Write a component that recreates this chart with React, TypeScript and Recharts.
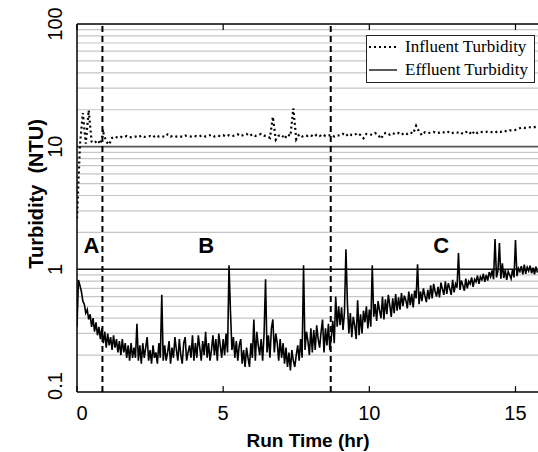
import { LineChart, Line, XAxis, YAxis, ReferenceLine, ReferenceDot } from 'recharts';

// sampling interval of the logged series (hours)
const EFF_STEP_HR = 0.05;
const INF_STEP_HR = 0.1;

// effluent turbidity (NTU), one row per hour of run time
const effluentNTU = [
  0.34, 0.82, 0.74, 0.66, 0.55, 0.52, 0.44, 0.47, 0.39, 0.43, 0.34, 0.40, 0.31, 0.37, 0.29, 0.34, 0.27, 0.33, 0.25, 0.31,
  0.23, 0.30, 0.24, 0.28, 0.22, 0.29, 0.23, 0.27, 0.21, 0.26, 0.20, 0.27, 0.21, 0.25, 0.19, 0.24, 0.18, 0.25, 0.19, 0.23,
  0.19, 0.36, 0.18, 0.24, 0.17, 0.25, 0.19, 0.23, 0.28, 0.18, 0.22, 0.17, 0.24, 0.19, 0.21, 0.17, 0.25, 0.19, 0.62, 0.18,
  0.24, 0.18, 0.21, 0.26, 0.17, 0.23, 0.19, 0.28, 0.22, 0.18, 0.27, 0.20, 0.17, 0.25, 0.28, 0.18, 0.21, 0.24, 0.19, 0.29,
  0.18, 0.25, 0.19, 0.29, 0.23, 0.18, 0.26, 0.20, 0.31, 0.19, 0.25, 0.18, 0.22, 0.29, 0.20, 0.27, 0.18, 0.30, 0.24, 0.19,
  0.27, 0.20, 0.30, 0.21, 1.08, 0.45, 0.22, 0.28, 0.19, 0.26, 0.18, 0.24, 0.27, 0.17, 0.22, 0.16, 0.23, 0.19, 0.16, 0.25,
  0.19, 0.39, 0.18, 0.31, 0.24, 0.20, 0.27, 0.18, 0.30, 0.83, 0.21, 0.29, 0.19, 0.33, 0.39, 0.21, 0.30, 0.25, 0.18, 0.27,
  0.19, 0.25, 0.17, 0.23, 0.16, 0.21, 0.15, 0.22, 0.18, 0.16, 0.20, 0.24, 0.18, 0.27, 0.19, 1.08, 0.22, 0.31, 0.26, 0.20,
  0.33, 0.21, 0.32, 0.22, 0.35, 0.27, 0.23, 0.31, 0.39, 0.21, 0.33, 0.24, 0.36, 0.22, 0.28, 0.38, 0.25, 0.60, 0.34, 0.50,
  0.35, 0.49, 0.32, 0.45, 1.46, 0.53, 0.30, 0.44, 0.28, 0.41, 0.35, 0.27, 0.56, 0.29, 0.43, 0.30, 0.46, 0.37, 0.50, 0.33,
  0.47, 0.34, 1.08, 0.41, 0.52, 0.38, 0.55, 0.46, 0.40, 0.60, 0.39, 0.57, 0.43, 0.62, 0.51, 0.41, 0.58, 0.44, 0.63, 0.46,
  0.59, 0.47, 0.64, 0.50, 0.61, 0.56, 0.48, 0.66, 0.51, 0.63, 0.49, 0.67, 0.58, 1.10, 0.52, 0.66, 0.55, 0.70, 0.61, 0.54,
  0.68, 0.57, 0.74, 0.58, 0.76, 0.66, 0.60, 0.72, 0.59, 0.78, 0.69, 0.62, 0.80, 0.63, 0.77, 0.70, 0.62, 0.82, 0.65, 0.76,
  0.71, 1.36, 0.68, 0.81, 0.74, 0.67, 0.84, 0.70, 0.80, 0.76, 0.86, 0.72, 0.83, 0.79, 0.89, 0.76, 0.87, 0.82, 0.92, 0.79,
  0.90, 0.81, 0.95, 0.87, 0.98, 0.83, 1.77, 0.86, 0.97, 1.64, 0.84, 1.12, 0.85, 0.99, 0.82, 0.96, 0.90, 0.84, 1.00, 0.86,
  1.73, 0.88, 1.02, 0.96, 1.06, 0.91, 1.09, 0.92, 1.04, 0.97, 1.07, 0.93, 1.03, 0.91, 1.05, 0.94,
];

// influent turbidity (NTU), one row per hour
const influentNTU = [
  2.6, 10.3, 18.8, 10.6, 19.8, 11.0, 10.7, 11.3, 10.5, 13.0,
  11.0, 10.4, 11.8, 12.1, 11.8, 12.0, 11.9, 12.2, 11.9, 12.0,
  12.1, 11.9, 12.3, 12.0, 12.1, 12.2, 11.9, 12.4, 12.1, 12.2,
  12.0, 12.6, 12.1, 12.3, 12.1, 12.2, 12.0, 12.3, 12.2, 12.1,
  12.3, 12.1, 12.2, 12.4, 12.1, 12.3, 12.5, 12.1, 12.3, 12.2,
  12.4, 12.1, 12.4, 12.2, 12.3, 12.6, 12.2, 12.5, 12.7, 12.2,
  12.6, 12.2, 12.5, 12.7, 12.3, 12.2, 11.8, 17.5, 11.4, 12.3,
  12.5, 11.6, 12.6, 12.2, 20.5, 11.5, 12.6, 12.1, 12.4, 12.2,
  12.4, 12.0, 12.5, 12.2, 12.6, 12.2, 12.3, 12.5, 12.1, 12.4,
  12.3, 12.7, 12.2, 12.8, 12.4, 12.5, 12.9, 12.4, 11.7, 12.7,
  12.6, 12.5, 12.9, 12.5, 11.6, 12.8, 13.0, 12.5, 12.9, 12.6,
  12.9, 12.5, 13.0, 12.7, 13.1, 12.8, 14.8, 13.3, 12.4, 13.1,
  12.9, 13.0, 13.2, 12.9, 13.0, 13.2, 12.9, 13.2, 12.8, 13.1,
  13.0, 13.2, 12.7, 13.1, 13.4, 12.5, 13.4, 12.9, 13.2, 13.1,
  13.2, 13.3, 13.1, 13.0, 13.4, 13.2, 13.5, 13.3, 13.6, 13.6,
  13.7, 14.0, 14.3, 14.2, 14.4, 14.4, 14.3, 14.5,
];

const xTicks = [0, 5, 10, 15];
const yTicks = [0.1, 1, 10, 100];
const minorGrid = [0.2, 0.3, 0.4, 0.5, 0.6, 0.7, 0.8, 0.9, 2, 3, 4, 5, 6, 7, 8, 9, 20, 30, 40, 50, 60, 70, 80, 90];
const phaseBounds = [0.87, 8.68];
const phaseNames = ['A', 'B', 'C'];
const phaseLabelHr = [0.49, 4.42, 12.46];
const phaseLabelNTU = [1.55, 1.55, 1.55];

const effluentData = effluentNTU.map((v, i) => ({ hr: +(i * EFF_STEP_HR).toFixed(2), ntu: v }));
const influentData = influentNTU.map((v, i) => ({ hr: +(i * INF_STEP_HR).toFixed(1), ntu: v }));

const sans = '"Liberation Sans", Arial, sans-serif';
const serif = '"Liberation Serif", "Times New Roman", serif';

function BottomTick({ x, y, payload }: any) {
  const lx = payload.value === 0 ? x + 5 : x;
  return (
    <g>
      <line x1={x} x2={x} y1={y} y2={y - 6} stroke="#000" strokeWidth={1.2} />
      <text x={lx} y={y + 28} textAnchor="middle" fontSize={20} fontFamily={sans} fill="#000">
        {payload.value}
      </text>
    </g>
  );
}

function TopTick({ x, y }: any) {
  return <line x1={x} x2={x} y1={y} y2={y + 6} stroke="#000" strokeWidth={1.2} />;
}

function LeftTick({ x, y, payload }: any) {
  const cx = x - 22;
  const cy = payload.value === 0.1 ? y - 6 : y;
  return (
    <text
      x={cx} y={cy} transform={`rotate(-90, ${cx}, ${cy})`}
      textAnchor="middle" dominantBaseline="central"
      fontSize={20} fontFamily={sans} fill="#000"
    >
      {payload.value}
    </text>
  );
}

export default function App() {
  return (
    <div style={{ position: 'absolute', left: 0, top: 0, width: 538, height: 452, background: '#fff' }}>
      <LineChart width={538} height={452} margin={{ top: 0, right: 0, bottom: 30, left: 17 }}>
        <XAxis
          dataKey="hr" type="number" domain={[0, 15.77]} ticks={xTicks} allowDataOverflow
          height={30} tickSize={0} tickMargin={0} tickLine={false} tick={<BottomTick />}
          axisLine={{ stroke: '#000', strokeWidth: 1.5 }}
        />
        <XAxis
          xAxisId="top" orientation="top" dataKey="hr" type="number" domain={[0, 15.77]} ticks={xTicks}
          allowDataOverflow height={24} tickSize={0} tickMargin={0} tickLine={false} tick={<TopTick />}
          axisLine={{ stroke: '#000', strokeWidth: 1.5 }}
        />
        <YAxis
          type="number" scale="log" domain={[0.1, 100]} ticks={yTicks} allowDataOverflow
          width={60} tickSize={0} tickMargin={0} tickLine={false} tick={<LeftTick />}
          axisLine={{ stroke: '#000', strokeWidth: 1.5 }}
        />
        {minorGrid.map((v) => (
          <ReferenceLine key={v} y={v} stroke="#c6c6c6" strokeWidth={1.2} />
        ))}
        <ReferenceLine y={10} stroke="#555" strokeWidth={1.8} />
        <ReferenceLine y={1} stroke="#111" strokeWidth={1.5} />
        {phaseBounds.map((v) => (
          <ReferenceLine key={v} x={v} stroke="#000" strokeWidth={2} strokeDasharray="6 4" />
        ))}
        <Line
          data={influentData} dataKey="ntu" type="linear" stroke="#000" strokeWidth={2.2}
          strokeDasharray="2 3" dot={false} isAnimationActive={false}
        />
        <Line
          data={effluentData} dataKey="ntu" type="linear" stroke="#000" strokeWidth={1.6}
          dot={false} isAnimationActive={false}
        />
        {phaseNames.map((name, i) => (
          <ReferenceDot
            key={name} x={phaseLabelHr[i]} y={phaseLabelNTU[i]} r={0}
            shape={(p: any) => (
              <text x={p.cx} y={p.cy} textAnchor="middle" dominantBaseline="central"
                fontSize={22} fontWeight="bold" fontFamily={sans} fill="#000">
                {name}
              </text>
            )}
          />
        ))}
      </LineChart>

      <svg width={538} height={452} style={{ position: 'absolute', left: 0, top: 0, pointerEvents: 'none' }}>
        <text x={308} y={447} textAnchor="middle" fontSize={19} fontWeight="bold" fontFamily={sans} fill="#000">
          Run Time (hr)
        </text>
        <text
          x={36} y={194} transform="rotate(-90, 36, 194)" textAnchor="middle" dominantBaseline="central"
          fontSize={20} fontWeight="bold" fontFamily={sans} fill="#000" style={{ whiteSpace: 'pre' }}
        >
          Turbidity  (NTU)
        </text>
      </svg>

      <div
        style={{
          position: 'absolute', left: 366, top: 35, width: 169, height: 48, boxSizing: 'border-box',
          border: '1.3px solid #222', background: '#fff', fontFamily: serif, fontSize: 17, color: '#000',
        }}
      >
        <svg width={30} height={48} style={{ position: 'absolute', left: 1, top: -1 }}>
          <line x1={1} x2={29} y1={12} y2={12} stroke="#000" strokeWidth={1.8} strokeDasharray="2 3" />
          <line x1={1} x2={29} y1={35} y2={35} stroke="#000" strokeWidth={1.3} />
        </svg>
        <div style={{ position: 'absolute', left: 38, top: 1, lineHeight: '20px', whiteSpace: 'nowrap' }}>
          Influent Turbidity
        </div>
        <div style={{ position: 'absolute', left: 38, top: 24, lineHeight: '20px', whiteSpace: 'nowrap' }}>
          Effluent Turbidity
        </div>
      </div>
    </div>
  );
}
